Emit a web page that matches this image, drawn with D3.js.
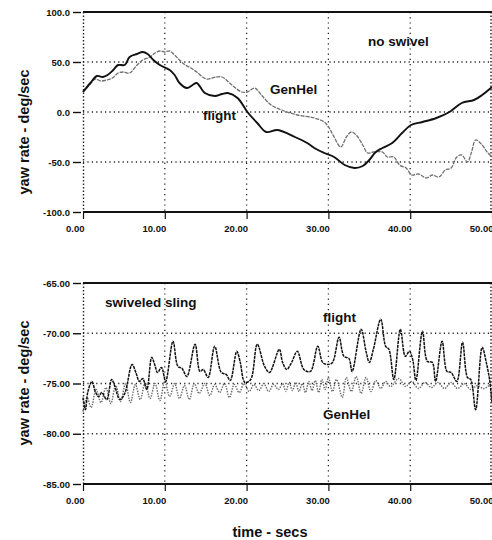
<!DOCTYPE html>
<html>
<head>
<meta charset="utf-8">
<script src="https://cdn.jsdelivr.net/npm/d3@7"></script>
<style>
  html, body { margin: 0; padding: 0; background: #fff; }
  svg { display: block; }
  text { font-family: "Liberation Sans", Arial, sans-serif; fill: #111; }
</style>
</head>
<body>
<svg id="chart" width="492" height="540"></svg>
<script>
// Time axis (seconds) shared by both panels
const timeTicks = [0, 10, 20, 30, 40, 50];
const timeTickLabels = ["0.00", "10.00", "20.00", "30.00", "40.00", "50.00"];

// Upper panel: no swivel, yaw rate in deg/sec
const upperRateTicks = [-100, -50, 0, 50, 100];
const upperRateLabels = ["-100.0", "-50.0", "0.0", "50.0", "100.0"];

// Lower panel: swiveled sling, yaw rate in deg/sec
const lowerRateTicks = [-85, -80, -75, -70, -65];
const lowerRateLabels = ["-85.00", "-80.00", "-75.00", "-70.00", "-65.00"];

// [time, yaw rate] — flight test, no swivel
const noSwivelFlight = [
  [0, 20], [0.9, 29], [1.7, 36], [2.4, 35], [3.0, 37], [3.7, 42], [4.3, 47], [5.1, 47],
  [5.7, 55], [6.6, 58], [7.3, 60], [7.9, 58], [8.6, 52], [9.4, 47], [10.6, 42], [11.2, 37],
  [11.8, 29], [12.7, 24], [13.4, 27], [13.9, 29], [14.9, 19], [16.1, 16], [17.0, 18], [17.7, 19],
  [18.9, 14], [20.1, 0], [21.3, -11], [22.4, -20], [23.8, -18], [25.9, -25], [27.4, -31],
  [28.5, -37], [29.5, -41], [30.7, -45], [32.0, -53], [33.2, -56], [34.2, -54], [35.0, -48],
  [35.8, -40], [36.6, -36], [37.8, -31], [39.0, -21], [40.1, -13], [41.5, -10], [43.2, -6],
  [44.8, 0], [46.3, 9], [47.8, 12], [48.8, 17], [50, 25]
];

// [time, yaw rate] — GenHel simulation, no swivel
const noSwivelGenHel = [
  [0, 20], [0.8, 27], [1.5, 33], [2.2, 31], [2.9, 32], [3.6, 34], [4.3, 39], [4.9, 40],
  [5.7, 39], [6.5, 46], [7.3, 52], [8.2, 55], [8.8, 59], [9.4, 61], [10.0, 60], [10.6, 61],
  [11.2, 57], [11.8, 52], [12.5, 47], [13.2, 44], [13.9, 40], [15.1, 33], [16.3, 35], [17.0, 35],
  [18.2, 27], [19.4, 20], [20.1, 20], [21.0, 24], [21.8, 17], [23.0, 7], [24.3, 2], [26.2, -3],
  [28.3, -6], [29.5, -10], [30.1, -16], [30.7, -25], [31.5, -35], [32.2, -25], [32.8, -20],
  [33.5, -24], [34.2, -33], [34.8, -41], [35.5, -40], [36.6, -40], [37.2, -45], [38.0, -45],
  [38.7, -53], [39.5, -56], [40.2, -63], [41.0, -62], [42.0, -66], [42.7, -63], [43.5, -65],
  [44.3, -58], [45.0, -56], [45.7, -45], [46.3, -43], [47.0, -50], [47.5, -40], [48.0, -28],
  [48.8, -33], [49.4, -40], [50, -45]
];

// [time, yaw rate] — flight test, swiveled sling
const swivelFlight = [
  [0, -76.4], [0.3, -77.6], [0.6, -75.8], [1.1, -74.8], [1.5, -75.8], [1.9, -76.3], [2.3, -75.9],
  [2.9, -76.6], [3.5, -74.6], [3.9, -75.3], [4.5, -76.6], [5.1, -76.0], [6.0, -73.1], [6.5, -74.0],
  [6.9, -74.8], [7.3, -74.5], [7.8, -75.6], [8.4, -72.4], [8.8, -73.2], [9.1, -73.9], [9.6, -73.4],
  [10.1, -74.8], [11.0, -70.8], [11.6, -73.3], [12.1, -73.5], [12.7, -74.3], [13.7, -71.1],
  [14.3, -73.8], [14.7, -73.6], [15.3, -74.4], [16.1, -71.3], [16.9, -73.9], [17.5, -74.1],
  [18.0, -74.7], [18.8, -71.8], [19.2, -72.8], [19.8, -74.9], [20.5, -74.6], [21.3, -71.1],
  [22.2, -73.3], [22.8, -73.9], [24.0, -71.6], [24.4, -72.9], [24.9, -73.6], [25.5, -72.9],
  [26.2, -71.8], [27.0, -73.6], [27.8, -73.8], [28.7, -71.3], [29.3, -72.9], [29.9, -73.1],
  [30.5, -72.9], [31.3, -70.4], [31.9, -72.3], [32.5, -72.5], [32.9, -73.8], [34.0, -69.6],
  [34.6, -71.8], [35.0, -72.9], [35.5, -71.6], [36.4, -68.6], [37.0, -71.3], [37.4, -71.6],
  [38.0, -74.6], [38.8, -69.6], [39.4, -72.3], [39.9, -71.8], [40.3, -72.6], [40.7, -74.7],
  [41.5, -69.8], [42.1, -72.8], [42.7, -72.9], [43.1, -74.8], [43.9, -70.8], [44.5, -73.8],
  [45.0, -73.9], [45.7, -74.8], [46.4, -70.9], [47.0, -74.4], [47.4, -74.6], [48.0, -77.6],
  [48.8, -71.4], [49.3, -72.9], [49.7, -74.6], [50, -76.9]
];

// [time, yaw rate] — GenHel simulation, swiveled sling
const swivelGenHel = [
  [0, -77.8], [0.5, -76.4], [1.0, -77.4], [1.6, -75.6], [2.2, -76.9], [2.8, -75.4], [3.4, -77.0],
  [4.0, -75.2], [4.6, -76.8], [5.2, -75.0], [5.8, -76.9], [6.4, -75.1], [7.0, -76.6], [7.6, -74.9],
  [8.2, -76.5], [8.8, -75.0], [9.4, -76.7], [10.0, -74.8], [10.6, -76.3], [11.2, -75.0],
  [11.8, -76.5], [12.4, -75.2], [13.0, -76.6], [13.6, -75.0], [14.2, -76.0], [14.9, -75.0],
  [15.5, -76.2], [16.1, -75.1], [16.7, -75.9], [17.3, -75.0], [17.9, -76.4], [18.5, -75.1],
  [19.1, -75.9], [19.7, -75.0], [20.3, -75.8], [20.9, -75.1], [21.5, -75.7], [22.1, -75.0],
  [22.7, -75.8], [23.3, -75.1], [23.9, -75.6], [24.4, -75.0], [24.8, -75.8], [25.2, -74.9],
  [25.6, -75.7], [26.0, -74.9], [26.4, -75.8], [26.8, -75.0], [27.2, -75.9], [27.6, -74.8],
  [28.0, -75.7], [28.4, -74.7], [28.8, -75.9], [29.2, -74.6], [29.6, -75.6], [30.0, -74.4],
  [30.5, -75.8], [31.0, -74.6], [31.7, -76.4], [32.2, -74.4], [32.8, -75.8], [33.4, -74.3],
  [34.0, -76.0], [34.6, -74.4], [35.2, -75.8], [35.8, -74.7], [36.4, -75.5], [37.0, -74.8],
  [37.6, -75.3], [38.6, -74.5], [39.4, -75.3], [40.2, -74.8], [41.0, -75.5], [41.8, -74.9],
  [42.6, -75.4], [43.4, -74.9], [44.2, -75.5], [45.0, -74.9], [45.8, -75.5], [46.6, -75.0],
  [47.4, -75.6], [48.2, -75.2], [49.0, -75.5], [50, -74.9]
];

const svg = d3.select("#chart");
const plotLeft = 83, plotRight = 492;

const x = d3.scaleLinear().domain([0, 50]).range([plotLeft, plotRight]);

function drawPanel(cfg) {
  const y = d3.scaleLinear().domain(cfg.domain).range([cfg.bottom, cfg.top]);
  const g = svg.append("g");

  // dotted grid
  g.selectAll("line.hgrid").data(cfg.yTicks.slice(1, -1)).enter().append("line")
    .attr("x1", plotLeft).attr("x2", plotRight)
    .attr("y1", d => y(d)).attr("y2", d => y(d))
    .attr("stroke", "#222").attr("stroke-width", 1.3).attr("stroke-dasharray", "1.2,3.2");
  g.selectAll("line.vgrid").data(timeTicks.slice(1, -1)).enter().append("line")
    .attr("x1", d => x(d)).attr("x2", d => x(d))
    .attr("y1", cfg.top).attr("y2", cfg.bottom)
    .attr("stroke", "#222").attr("stroke-width", 1.3).attr("stroke-dasharray", "1.2,4");

  // frame: dotted sides, solid top and bottom
  [plotLeft + 0.5, plotRight - 1].forEach(px => {
    g.append("line").attr("x1", px).attr("x2", px).attr("y1", cfg.top).attr("y2", cfg.bottom)
      .attr("stroke", "#222").attr("stroke-width", 1.4).attr("stroke-dasharray", "1.5,2");
  });
  [cfg.top, cfg.bottom].forEach(py => {
    g.append("line").attr("x1", plotLeft).attr("x2", plotRight).attr("y1", py).attr("y2", py)
      .attr("stroke", "#111").attr("stroke-width", 2);
  });

  // y axis
  const yAxis = d3.axisLeft(y).tickValues(cfg.yTicks)
    .tickFormat((d, i) => cfg.yLabels[i]).tickSize(8).tickPadding(3);
  const ya = g.append("g").attr("transform", `translate(${plotLeft - 2},0)`).call(yAxis);
  ya.select(".domain").remove();
  ya.selectAll(".tick line").attr("stroke", "#111").attr("stroke-width", 1.4);
  ya.selectAll(".tick text").attr("font-size", "9.5px").attr("font-weight", "bold")
    .attr("fill", "#111").attr("font-family", "Liberation Sans, Arial, sans-serif");

  // x axis
  const xAxis = d3.axisBottom(x).tickValues(timeTicks)
    .tickFormat((d, i) => timeTickLabels[i]).tickSize(6).tickPadding(6);
  const xa = g.append("g").attr("transform", `translate(0,${cfg.bottom + 1})`).call(xAxis);
  xa.select(".domain").remove();
  xa.selectAll(".tick line").attr("stroke", "#111").attr("stroke-width", 1.2);
  xa.selectAll(".tick text").attr("font-size", "9.5px").attr("font-weight", "bold")
    .attr("text-anchor", "end").attr("x", 1)
    .attr("fill", "#111").attr("font-family", "Liberation Sans, Arial, sans-serif");

  // series
  const line = d3.line().x(d => x(d[0])).y(d => y(d[1])).curve(d3.curveCatmullRom.alpha(0.5));
  g.append("path").datum(cfg.genhel).attr("d", line).attr("fill", "none")
    .attr("stroke", cfg.genhelColor).attr("stroke-width", cfg.genhelWidth)
    .attr("stroke-dasharray", cfg.genhelDash);
  g.append("path").datum(cfg.flight).attr("d", line).attr("fill", "none")
    .attr("stroke", "#111").attr("stroke-width", cfg.flightWidth)
    .attr("stroke-dasharray", cfg.flightDash);

  // y title
  g.append("text")
    .attr("transform", `translate(29,${cfg.titleY}) rotate(-90)`)
    .attr("text-anchor", "middle").attr("font-size", "14.5px").attr("font-weight", "bold")
    .text("yaw rate - deg/sec");

  // in-plot labels
  cfg.notes.forEach(n => {
    g.append("text").attr("x", n.x).attr("y", n.y).attr("font-size", "13.5px")
      .attr("font-weight", "bold").text(n.text);
  });
}

drawPanel({
  domain: [-100, 100], top: 12, bottom: 212, titleY: 132,
  yTicks: upperRateTicks, yLabels: upperRateLabels,
  flight: noSwivelFlight, genhel: noSwivelGenHel,
  flightWidth: 1.9, flightDash: null,
  genhelColor: "#707070", genhelWidth: 1.3, genhelDash: "4,1",
  notes: [
    { x: 368, y: 46, text: "no swivel" },
    { x: 270, y: 94, text: "GenHel" },
    { x: 203, y: 120, text: "flight" }
  ]
});

drawPanel({
  domain: [-85, -65], top: 283, bottom: 484, titleY: 383,
  yTicks: lowerRateTicks, yLabels: lowerRateLabels,
  flight: swivelFlight, genhel: swivelGenHel,
  flightWidth: 1.5, flightDash: "3,0.8",
  genhelColor: "#666", genhelWidth: 1.4, genhelDash: "1.4,1.2",
  notes: [
    { x: 105, y: 307, text: "swiveled sling" },
    { x: 323, y: 322, text: "flight" },
    { x: 323, y: 419, text: "GenHel" }
  ]
});

// shared time title
svg.append("text").attr("x", 270).attr("y", 537).attr("text-anchor", "middle")
  .attr("font-size", "14.5px").attr("font-weight", "bold").text("time - secs");
</script>
</body>
</html>
